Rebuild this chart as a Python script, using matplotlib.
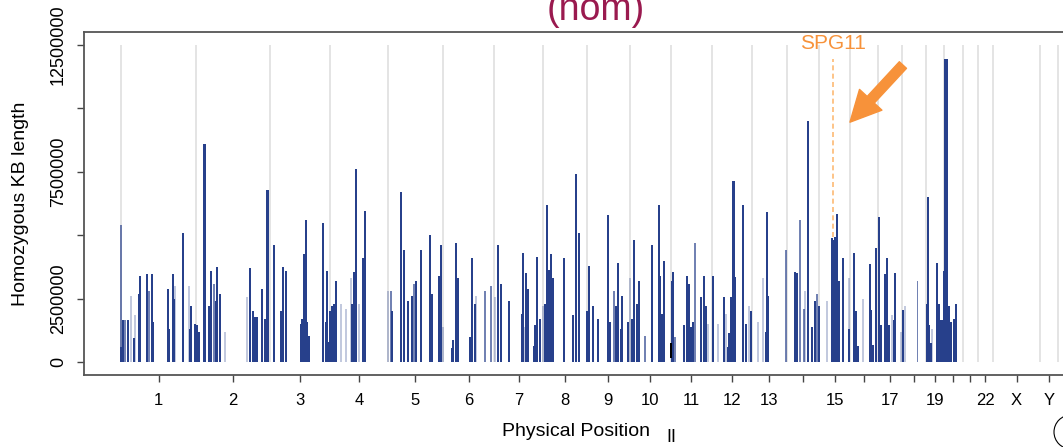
import numpy as np
import matplotlib.pyplot as plt
from matplotlib.patches import Circle
from matplotlib.transforms import IdentityTransform

plt.rcParams['font.family'] = ['Liberation Sans', 'DejaVu Sans']

# chromosome sizes (Mb, hg19)
chrom_names = [str(i) for i in range(1, 23)] + ['X', 'Y']
chrom_len_mb = [249.25, 243.20, 198.02, 191.15, 180.92, 171.12, 159.14, 146.36,
                141.21, 135.53, 135.01, 133.85, 115.17, 107.35, 102.53, 90.35,
                81.20, 78.08, 59.13, 63.03, 48.13, 51.30, 155.27, 59.37]
tick_labels = ['1', '2', '3', '4', '5', '6', '7', '8', '9', '10', '11', '12', '13',
               '', '15', '', '17', '', '19', '', '', '22', 'X', 'Y']

# homozygous runs per chromosome: (position Mb, length in millions, shade 1=faint..3=solid)
chr1 = [(1, 5.4, 2), (0.5, 0.6, 3), (7, 1.65, 3), (13, 1.65, 2), (23, 1.65, 3), (33, 2.6, 1),
        (43, 0.94, 3), (46, 1.85, 1), (59, 2.7, 3), (63, 3.4, 3), (86, 3.46, 3), (92, 2.8, 2),
        (102, 3.46, 3), (106, 1.6, 3), (155, 2.9, 3), (158, 1.3, 3), (172, 3.46, 3), (175, 2.5, 3),
        (178, 3.0, 1), (205, 5.1, 3), (225, 3.0, 1), (228, 1.3, 3), (231, 2.2, 3), (244, 1.5, 3)]
chr2 = [(2, 1.45, 3), (9, 1.2, 3), (24, 8.6, 3), (27, 8.6, 3), (42, 2.2, 3), (48, 3.6, 3),
        (58, 3.1, 2), (65, 2.4, 3), (68, 3.75, 3), (78, 2.7, 3), (94, 1.2, 1), (167, 2.57, 1),
        (177, 3.7, 3), (187, 2.0, 3), (194, 1.8, 3), (201, 1.8, 3), (217, 2.9, 3), (227, 1.7, 3),
        (233, 6.8, 3), (236, 6.8, 3)]
chr3 = [(13, 4.6, 3), (36, 2.0, 3), (43, 3.75, 3), (51, 3.6, 3), (54, 3.6, 3), (102, 1.5, 3),
        (105, 1.7, 3), (112, 4.25, 3), (118, 5.6, 3), (122, 1.6, 3), (128, 1.05, 3), (175, 5.5, 3),
        (185, 1.6, 3), (188, 3.6, 3), (195, 0.8, 3)]
chr4 = [(1, 2.0, 3), (7, 2.2, 3), (13, 2.3, 3), (20, 3.2, 3), (36, 2.3, 1), (53, 2.1, 1),
        (69, 3.3, 1), (73, 2.3, 3), (79, 3.55, 3), (86, 7.6, 3), (96, 2.3, 1), (109, 4.1, 3),
        (116, 5.95, 3)]
chr5 = [(1, 2.8, 1), (10, 2.8, 2), (14, 2.0, 3), (43, 6.7, 3), (53, 4.4, 3), (66, 2.4, 3),
        (80, 2.6, 3), (86, 3.1, 2), (93, 3.2, 3), (109, 4.4, 3), (139, 5.0, 3), (146, 2.7, 3),
        (169, 3.4, 3), (175, 4.6, 3)]
chr6 = [(2, 1.4, 1), (31, 0.55, 3), (34, 0.87, 3), (44, 4.7, 3), (51, 3.3, 3), (90, 1.0, 3),
        (97, 4.1, 3), (107, 2.3, 3), (110, 2.6, 1), (140, 2.8, 2), (160, 3.0, 2)]
chr7 = [(1, 2.55, 1), (12, 4.6, 3), (22, 3.1, 3), (48, 2.4, 3), (91, 1.9, 3), (94, 4.3, 3),
        (101, 1.4, 1), (104, 3.5, 3), (111, 2.9, 3), (131, 0.66, 3), (134, 1.45, 3),
        (141, 4.15, 3), (151, 1.7, 3)]
chr8 = [(2, 2.2, 1), (8, 2.3, 3), (15, 6.2, 3), (21, 3.65, 3), (28, 4.25, 3), (34, 3.3, 3),
        (71, 4.1, 3), (100, 1.85, 3), (110, 7.4, 3), (120, 5.1, 3)]
chr9 = [(1, 2.0, 3), (7, 3.8, 3), (20, 2.2, 3), (37, 1.7, 3), (70, 5.8, 3), (76, 1.6, 3),
        (89, 2.8, 2), (96, 2.2, 3), (102, 3.9, 3), (112, 1.3, 3), (116, 2.6, 3), (135, 1.6, 3)]
chr10 = [(1, 3.3, 1), (8, 1.7, 3), (15, 4.8, 3), (24, 2.3, 3), (28, 0.67, 3), (31, 3.2, 3),
         (51, 1.05, 2), (74, 4.6, 3), (97, 6.2, 3), (100, 3.4, 3), (107, 1.9, 3), (114, 4.0, 3)]
chr11 = [(5, 3.2, 3), (8, 3.55, 3), (15, 1.0, 2), (44, 1.45, 3), (54, 3.4, 3), (61, 3.1, 3),
         (67, 1.4, 3), (74, 1.6, 3), (80, 4.7, 2), (100, 2.55, 3), (110, 3.4, 3), (117, 2.2, 3),
         (123, 1.5, 1)]
chr12 = [(5, 3.4, 3), (21, 1.5, 1), (41, 2.55, 3), (48, 1.9, 1), (54, 0.6, 3), (58, 1.15, 3),
         (64, 2.55, 3), (70, 7.15, 3), (74, 7.15, 3), (78, 3.35, 3), (104, 6.2, 3), (114, 1.5, 3),
         (124, 2.2, 1), (130, 2.0, 3)]
chr13 = [(20, 1.6, 1), (36, 3.3, 1), (46, 1.2, 3), (50, 5.9, 3), (53, 2.6, 3), (112, 4.4, 2)]
chr14 = [(27, 3.55, 3), (33, 3.5, 3), (43, 5.6, 2), (56, 2.1, 2), (60, 2.8, 1), (69, 9.5, 3),
         (83, 1.4, 3), (93, 2.4, 3), (99, 2.7, 2), (106, 2.2, 3)]
chr15 = [(26, 2.4, 1), (40, 4.9, 3), (46, 4.8, 3), (50, 4.95, 3), (56, 2.4, 1), (59, 5.85, 3),
         (66, 3.2, 3), (79, 4.1, 3), (99, 3.3, 1), (99, 1.3, 3)]
chr16 = [(13, 4.3, 3), (17, 2.0, 3), (26, 0.63, 3), (43, 2.5, 1), (63, 3.85, 3), (69, 2.05, 3),
         (76, 0.67, 3), (83, 4.5, 3)]
chr17 = [(3, 5.7, 3), (10, 1.45, 3), (23, 3.46, 3), (30, 4.1, 3), (36, 1.45, 3), (46, 1.85, 1),
         (53, 1.65, 3), (56, 3.5, 3), (76, 1.2, 1)]
chr18 = [(1, 2.05, 3), (10, 2.2, 1), (50, 3.2, 2)]
chr19 = [(3, 2.3, 3), (7, 6.5, 3), (10, 1.45, 3), (16, 0.75, 3), (20, 1.3, 1), (36, 3.9, 3),
         (43, 2.3, 3), (50, 1.65, 3), (56, 1.65, 3), (58, 3.6, 3)]
chr20 = [(5, 11.95, 3), (10, 11.95, 3), (17, 2.2, 3), (23, 1.6, 3), (33, 1.7, 3), (40, 2.3, 3)]
runs_by_chrom = [chr1, chr2, chr3, chr4, chr5, chr6, chr7, chr8, chr9, chr10,
                 chr11, chr12, chr13, chr14, chr15, chr16, chr17, chr18, chr19, chr20]

# one odd black segment on chr11: (chrom index, Mb, bottom, top in millions)
black_run = (10, 1, 0.15, 0.75)

spg11_chrom, spg11_mb = 14, 44.9   # chr15

lens = np.array(chrom_len_mb)
starts = np.concatenate([[0], np.cumsum(lens)[:-1]])
total = lens.sum()
mids = starts + lens / 2

blue = np.array([0x27, 0x40, 0x8B]) / 255
shade_alpha = {1: 0.28, 2: 0.65, 3: 1.0}

xs, hs, cols = [], [], []
for ci, runs in enumerate(runs_by_chrom):
    for pos, h, s in runs:
        xs.append(starts[ci] + pos)
        hs.append(h * 1e6)
        cols.append((*blue, shade_alpha[s]))

fig = plt.figure(figsize=(10.63, 4.47), dpi=100)
ax = fig.add_axes([0.0786, 0.1611, 0.952, 0.7673])

ax.vlines(np.append(starts, total), 0, 12.5e6, color='#dddddd', lw=1.1, zorder=1)
ax.bar(xs, hs, width=6.5, color=cols, lw=0, zorder=2)
bc, bp, b0, b1 = black_run
ax.bar(starts[bc] + bp, (b1 - b0) * 1e6, bottom=b0 * 1e6, width=6.5, color='black', lw=0, zorder=3)

ax.set_xlim(-0.04 * total, 1.04 * total)
ax.set_ylim(-0.5e6, 13e6)

ax.set_yticks([0, 2.5e6, 5e6, 7.5e6, 10e6, 12.5e6])
ax.set_yticklabels(['0', '2500000', '', '7500000', '', '12500000'], rotation=90, va='center')
ax.set_xticks(mids)
ax.set_xticklabels(tick_labels)
ax.tick_params(axis='both', direction='out', length=5, width=1, color='#444444', labelsize=12, pad=8)
ax.tick_params(axis='y', labelsize=13, pad=7)

for side in ['left', 'bottom', 'top', 'right']:
    ax.spines[side].set_color('#555555')
    ax.spines[side].set_linewidth(1.3)

ax.set_ylabel('Homozygous KB length', fontsize=14)
ax.yaxis.set_label_coords(-0.054, 0.5)
ax.set_xlabel('Physical Position', fontsize=14)
ax.xaxis.set_label_coords(0.487, -0.141)

# SPG11 marker
orange = '#F7923A'
spg_x = starts[spg11_chrom] + spg11_mb
ax.vlines(spg_x, 4.95e6, 11.95e6, color='#FDBA74', lw=1.2, linestyles=(0, (3, 2)), zorder=4)
ax.text(spg_x, 12.55e6, 'SPG11', color=orange, fontsize=15, ha='center', va='center')
ax.annotate('', xy=(spg_x + 56, 9.45e6), xytext=(spg_x + 231, 11.7e6),
            arrowprops=dict(arrowstyle='simple,head_length=1.1,head_width=1.1,tail_width=0.35',
                            color=orange, shrinkA=0, shrinkB=0, mutation_scale=20))

fig.text(596 / 1063, 1 - 20 / 447, '(hom)', fontsize=27, color='#9A1A4F', ha='center', va='baseline')
fig.text(671 / 1063, 1 - 442 / 447, 'II', fontsize=13, ha='center', va='baseline')
# partial circle in the lower-right corner (display pixels)
fig.add_artist(Circle((1071, 447 - 432), 17, transform=IdentityTransform(),
                      fill=False, ec='black', lw=0.8))

fig.savefig('out.png', dpi=100)
